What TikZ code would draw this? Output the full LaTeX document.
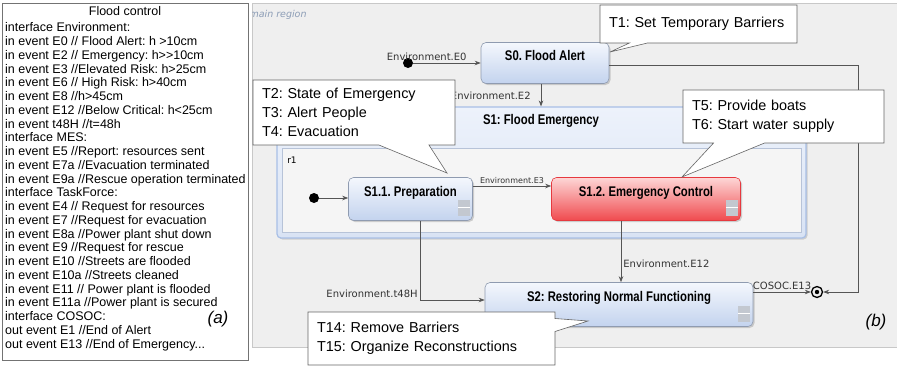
\documentclass[tikz,border=0pt]{standalone}
\usepackage{fontspec}
\setmainfont{Liberation Sans}
\newfontfamily\statefont[FakeStretch=0.81]{Liberation Sans}
\newfontfamily\labelfont{DejaVu Sans}
\usetikzlibrary{arrows.meta,shapes.callouts,shadows}
\frenchspacing
\definecolor{regiongray}{HTML}{EFEFEF}
\definecolor{regionline}{HTML}{C8C8C8}
\definecolor{statetop}{HTML}{F4F7FD}
\definecolor{statebottom}{HTML}{C3D3EE}
\definecolor{stateline}{HTML}{8F9BB0}
\definecolor{redtop}{HTML}{FDD6D6}
\definecolor{redbottom}{HTML}{F04A4E}
\definecolor{redline}{HTML}{E6393F}
\definecolor{compline}{HTML}{A8BFE6}
\definecolor{comptop}{HTML}{EDF2FB}
\definecolor{compbottom}{HTML}{D9E3F4}
\definecolor{innerline}{HTML}{B7C3D8}
\definecolor{linegray}{HTML}{555555}
\definecolor{iconfill}{HTML}{C3C8D0}
\definecolor{regionlabel}{HTML}{8C9DB6}
\tikzset{
    state/.style={rectangle, rounded corners=5pt, draw=stateline, line width=0.6pt,
        top color=statetop, bottom color=statebottom, minimum height=43pt,
        text height=9pt, text depth=15pt,
        font=\statefont\bfseries\fontsize{14}{16}\selectfont,
        drop shadow={shadow xshift=1.5pt, shadow yshift=-1.5pt, opacity=.35}},
    redstate/.style={state, draw=redline, top color=redtop, bottom color=redbottom},
    initstate/.style={circle, fill=black, minimum size=10pt, inner sep=0pt},
    finalstate/.style={circle, draw=black, line width=1.3pt, minimum size=11pt, inner sep=0pt},
    trans/.style={draw=linegray, line width=0.7pt, -{Stealth[length=6pt,width=4.5pt]}},
    lbl/.style={font=\labelfont\fontsize{10}{12}\selectfont, text=black!80, inner sep=2pt},
    note/.style={rectangle callout, draw=black!60, fill=white, line width=0.6pt,
        align=left, inner xsep=9pt, font=\fontsize{14.4}{19}\selectfont}
}
\begin{document}
\begin{tikzpicture}[x=1pt,y=-1pt]
	\useasboundingbox (0,0) rectangle (897,367);
	\node[rectangle, draw=black!55, fill=white, minimum width=246pt, minimum height=357pt] (iface) at (125,181.5) {};
	\node[font=\fontsize{12.5}{14}\selectfont] (ifacetitle) at (125,11) {Flood control};
	\node[anchor=north west, align=left, inner sep=0pt, font=\fontsize{12.5}{13.75}\selectfont] (events) at (5,22.5) {interface Environment:\\
	in event E0 // Flood Alert: h >10cm\\
	in event E2 // Emergency: h>{}>10cm\\
	in event E3 //Elevated Risk: h>25cm\\
	in event E6 // High Risk: h>40cm\\
	in event E8 //h>45cm\\
	in event E12 //Below Critical: h<25cm\\
	in event t48H //t=48h\\
	interface MES:\\
	in event E5 //Report: resources sent\\
	in event E7a //Evacuation terminated\\
	in event E9a //Rescue operation terminated\\
	interface TaskForce:\\
	in event E4 // Request for resources\\
	in event E7 //Request for evacuation\\
	in event E8a //Power plant shut down\\
	in event E9 //Request for rescue\\
	in event E10 //Streets are flooded\\
	in event E10a //Streets cleaned\\
	in event E11 // Power plant is flooded\\
	in event E11a //Power plant is secured\\
	interface COSOC:\\
	out event E1 //End of Alert\\
	out event E13 //End of Emergency...};
	\node[font=\itshape\fontsize{17}{20}\selectfont] (tagA) at (218,319) {(a)};

	\node[rectangle, draw=regionline, fill=regiongray, minimum width=645pt, minimum height=344pt] (main) at (574.5,175) {};
	\begin{scope}
		\clip (252,3) rectangle (897,347);
		\node[anchor=west, font=\labelfont\itshape\fontsize{9.5}{11}\selectfont, text=regionlabel] (mainlab) at (246,15) {main region};
	\end{scope}
	\node[font=\itshape\fontsize{17}{20}\selectfont] (tagB) at (876,322) {(b)};

	\node[rectangle, rounded corners=4pt, draw=compline, line width=1.2pt, top color=comptop, bottom color=compbottom,
		minimum width=529pt, minimum height=131pt, drop shadow={shadow xshift=1.5pt, shadow yshift=-1.5pt, opacity=.3}] (s1) at (541.5,172.5) {};
	\node[font=\statefont\bfseries\fontsize{14}{16}\selectfont] (s1title) at (541,121) {S1: Flood Emergency};
	\node[rectangle, draw=innerline, fill=black!4, minimum width=519pt, minimum height=84pt] (r1) at (541.5,190) {};
	\node[font=\labelfont\fontsize{9}{11}\selectfont] (r1lab) at (292,160) {r1};

	\node[state, minimum width=128pt, minimum height=41pt] (s0) at (545,63) {S0. Flood Alert};
	\node[state, minimum width=124pt] (s11) at (410.5,199) {S1.1. Preparation};
	\node[redstate, minimum width=189pt] (s12) at (646,199) {S1.2. Emergency Control};
	\node[state, minimum width=268pt, minimum height=44pt] (s2) at (619,304.5) {S2: Restoring Normal Functioning};
	\foreach \s in {s11,s12,s2} {
		\fill[iconfill] ([shift={(-15pt,5pt)}]\s.south east) rectangle ++(12,-16);
		\draw[white, line width=0.8pt] ([shift={(-15pt,13pt)}]\s.south east) -- ++(12,0);
	}

	\node[initstate] (init0) at (408,63) {};
	\node[initstate] (init1) at (314,198) {};
	\node[finalstate] (final) at (817,292) {};
	\fill (final.center) circle (2.2pt);
	\coordinate (bend) at (858,292);

	\draw[trans] (init0) -- node[lbl, above, pos=0.2] (lE0) {Environment.E0} (s0.west);
	\draw[trans] ([xshift=-4pt]s0.south) -- node[lbl, left, pos=0.55, xshift=-8pt] (lE2) {Environment.E2} ([xshift=-4pt]s0.south |- s1.north);
	\draw[trans] (init1) -- (init1 -| s11.west);
	\draw[trans] ([yshift=13pt]s11.east) -- node[lbl, above, font=\labelfont\fontsize{8}{10}\selectfont] (lE3) {Environment.E3} ([yshift=13pt]s12.west);
	\draw[trans] ([xshift=9.5pt]s11.south) |- node[lbl, anchor=south east, pos=0.5] (lt48) {Environment.t48H} ([yshift=4.5pt]s2.west);
	\draw[trans] ([xshift=-25pt]s12.south) -- node[lbl, right, pos=0.7] (lE12) {Environment.E12} ([xshift=-25pt]s12.south |- s2.north);
	\draw[trans] ([yshift=12.5pt]s2.east) -- node[lbl, above] (lE13) {COSOC.E13} (final);
	\draw[trans] ([yshift=-2pt]s0.east) -| (bend) -- (final);

	\node[note, text width=179pt, minimum height=38pt, callout absolute pointer={(610,52)}, callout pointer width=18pt] (t1) at (698.5,24) {T1: Set Temporary Barriers};
	\node[note, text width=184pt, minimum height=65pt, callout absolute pointer={(447,173)}, callout pointer width=50pt] (t2) at (354,112.5) {T2: State of Emergency\\T3: Alert People\\T4: Evacuation};
	\node[note, text width=183pt, minimum height=53pt, callout absolute pointer={(682,177)}, callout pointer width=51pt] (t5) at (783.5,116.5) {T5: Provide boats\\T6: Start water supply};
	\node[note, text width=229pt, minimum height=53pt, callout absolute pointer={(588,321)}, callout pointer width=13pt] (t14) at (431.5,338.5) {T14: Remove Barriers\\T15: Organize Reconstructions};
\end{tikzpicture}
\end{document}
